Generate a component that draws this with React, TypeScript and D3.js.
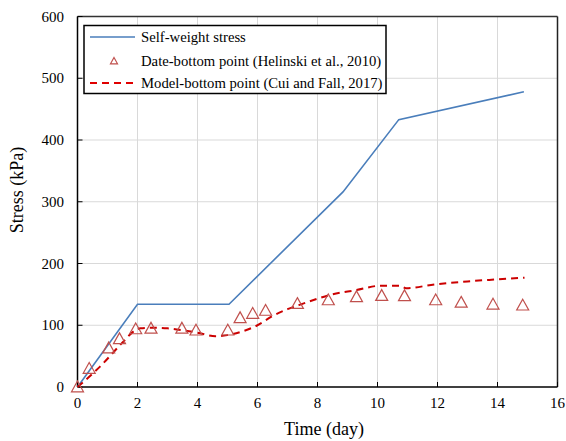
import React from "react";
import * as d3 from "d3";

const selfWeightTime = [0, 2.0, 5.05, 8.85, 10.71, 14.88];
const selfWeightStress = [0, 134, 134, 316, 433, 478];

const dataTime = [0, 0.39, 1.04, 1.4, 1.94, 2.45, 3.48, 3.95, 5.01, 5.42, 5.84, 6.27, 7.33, 8.36, 9.3, 10.14, 10.9, 11.94, 12.79, 13.85, 14.84];
const dataStress = [0, 30, 63, 78, 94, 95, 95, 92, 92, 112, 119, 124, 135, 141, 146, 148, 147.6, 141, 137, 134, 132.5];

const modelTime = [0, 0.75, 1.5, 1.9, 2.1, 2.5, 3.0, 3.5, 4.0, 4.6, 5.0, 5.5, 6.0, 6.5, 7.0, 7.4, 8.0, 8.4, 9.3, 10.1, 10.75, 10.95, 11.9, 13.0, 13.9, 14.9];
const modelStress = [0, 33, 72, 91, 95, 96, 95, 92, 88, 82, 84, 90, 100, 115, 126, 133, 143, 149, 157, 164, 164, 160, 166, 171, 174, 177];

const xTicks = [0, 2, 4, 6, 8, 10, 12, 14, 16];
const yTicks = [0, 100, 200, 300, 400, 500, 600];

const legendLabels = [
  "Self-weight stress",
  "Date-bottom point (Helinski et al., 2010)",
  "Model-bottom point (Cui and Fall, 2017)",
];

const W = 566;
const H = 441;
const left = 77.5;
const right = 557.5;
const top = 16.5;
const bottom = 387;

const BLUE = "#4a7ebb";
const RED = "#c0504d";
const DRED = "#cc0000";
const FONT = "'Liberation Serif', 'Times New Roman', serif";

export default function App() {
  const x = d3.scaleLinear().domain([0, 16]).range([left, right]);
  const y = d3.scaleLinear().domain([0, 600]).range([bottom, top]);

  const line = d3
    .line<[number, number]>()
    .x((d) => x(d[0]))
    .y((d) => y(d[1]));

  const swPts = selfWeightTime.map((t, i) => [t, selfWeightStress[i]] as [number, number]);
  const mPts = modelTime.map((t, i) => [t, modelStress[i]] as [number, number]);

  const tri = (cx: number, cy: number, s = 6) =>
    `M${cx},${cy - s}L${cx + s},${cy + s * 0.8}L${cx - s},${cy + s * 0.8}Z`;

  const lgX = 84;
  const lgY = 25.5;
  const lgW = 302;
  const lgH = 68;
  const rowY = [37, 61, 83];

  return (
    <svg
      width={W}
      height={H}
      style={{ position: "absolute", left: 0, top: 0, background: "#fff" }}
      fontFamily={FONT}
    >
      <rect x={0} y={0} width={W} height={H} fill="#fff" />
      {xTicks.slice(1, -1).map((t) => (
        <line key={"gx" + t} x1={x(t)} x2={x(t)} y1={top} y2={bottom} stroke="#d9d9d9" strokeWidth={1} />
      ))}
      {yTicks.slice(1, -1).map((t) => (
        <line key={"gy" + t} x1={left} x2={right} y1={y(t)} y2={y(t)} stroke="#d9d9d9" strokeWidth={1} />
      ))}
      <line x1={left} x2={right} y1={top} y2={top} stroke="#333" strokeWidth={1.5} />
      <line x1={right} x2={right} y1={top} y2={bottom} stroke="#222" strokeWidth={1.5} />
      <line x1={left} x2={left} y1={top} y2={bottom} stroke="#000" strokeWidth={1.5} />
      <line x1={left} x2={right} y1={bottom} y2={bottom} stroke="#000" strokeWidth={1.5} />
      {xTicks.map((t) => (
        <g key={"xt" + t}>
          <line x1={x(t)} x2={x(t)} y1={bottom} y2={bottom - 5} stroke="#000" strokeWidth={1} />
          <text x={x(t)} y={408} textAnchor="middle" fontSize={15} fill="#000">
            {t}
          </text>
        </g>
      ))}
      {yTicks.map((t) => (
        <g key={"yt" + t}>
          <line x1={left} x2={left + 5} y1={y(t)} y2={y(t)} stroke="#000" strokeWidth={1} />
          <text x={64} y={y(t) + 5} textAnchor="end" fontSize={15} fill="#000">
            {t}
          </text>
        </g>
      ))}
      <text x={324} y={435} textAnchor="middle" fontSize={18} fill="#000">
        Time (day)
      </text>
      <text transform={`translate(23,190) rotate(-90)`} textAnchor="middle" fontSize={18} fill="#000">
        Stress (kPa)
      </text>
      <path d={line(swPts) || ""} fill="none" stroke={BLUE} strokeWidth={1.6} />
      <path
        d={line.curve(d3.curveMonotoneX)(mPts) || ""}
        fill="none"
        stroke={DRED}
        strokeWidth={2}
        strokeDasharray="7,5"
      />
      {dataTime.map((t, i) => (
        <path key={"d" + i} d={tri(x(t), y(dataStress[i]))} fill="none" stroke={RED} strokeWidth={1.2} />
      ))}
      <rect x={lgX} y={lgY} width={lgW} height={lgH} fill="#fff" stroke="#000" strokeWidth={1.5} />
      <line x1={90} x2={135} y1={rowY[0]} y2={rowY[0]} stroke={BLUE} strokeWidth={1.6} />
      <path d={tri(114, rowY[1], 3.5)} fill="none" stroke={RED} strokeWidth={1.2} />
      <line x1={90} x2={135} y1={rowY[2]} y2={rowY[2]} stroke="#e00000" strokeWidth={2} strokeDasharray="7,5" />
      {legendLabels.map((l, i) => (
        <text key={l} x={141} y={rowY[i] + 5} fontSize={14.7} fill="#000">
          {l}
        </text>
      ))}
    </svg>
  );
}
